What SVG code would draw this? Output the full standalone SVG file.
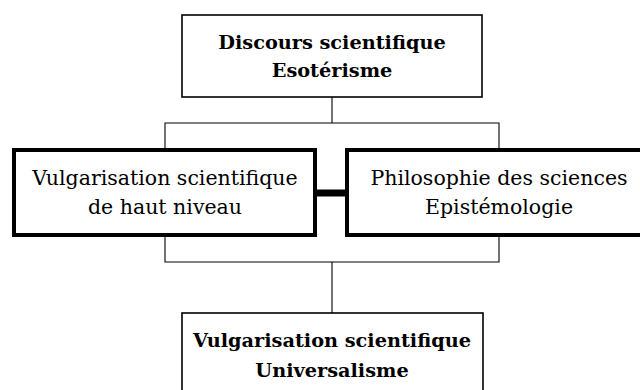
<svg xmlns="http://www.w3.org/2000/svg" width="640" height="390" viewBox="0 0 640 390">
<style>
.box{fill:#fff;stroke:#000}
.thin{stroke-width:1.6}
.thick{stroke-width:4}
.conn{fill:none;stroke:#000;stroke-width:1.1}
text{font-family:"DejaVu Serif",serif;font-size:20.5px;text-anchor:middle;fill:#000}
.b{font-weight:bold;font-size:19.3px}
</style>
<rect width="640" height="390" fill="#fff"/>
<g id="connectors">
<path class="conn" d="M332 97V123M165 150V123H499V150"/>
<path class="conn" d="M165 235V262H499V235M332 262V313"/>
<line x1="315" y1="193" x2="347" y2="193" stroke="#000" stroke-width="7"/>
</g>
<g id="top">
<rect class="box thin" x="182" y="15" width="300" height="82"/>
<text class="b" x="332" y="49">Discours scientifique</text>
<text class="b" x="332" y="77">Esotérisme</text>
</g>
<g id="left">
<rect class="box thick" x="14" y="150" width="301" height="85"/>
<text x="165" y="185">Vulgarisation scientifique</text>
<text x="165" y="214">de haut niveau</text>
</g>
<g id="right">
<rect class="box thick" x="347" y="150" width="301" height="85"/>
<text x="499" y="185">Philosophie des sciences</text>
<text x="499" y="214">Epistémologie</text>
</g>
<g id="bottom">
<rect class="box thin" x="182" y="313" width="301" height="90"/>
<text class="b" x="332" y="347">Vulgarisation scientifique</text>
<text class="b" x="332" y="377">Universalisme</text>
</g>
</svg>
